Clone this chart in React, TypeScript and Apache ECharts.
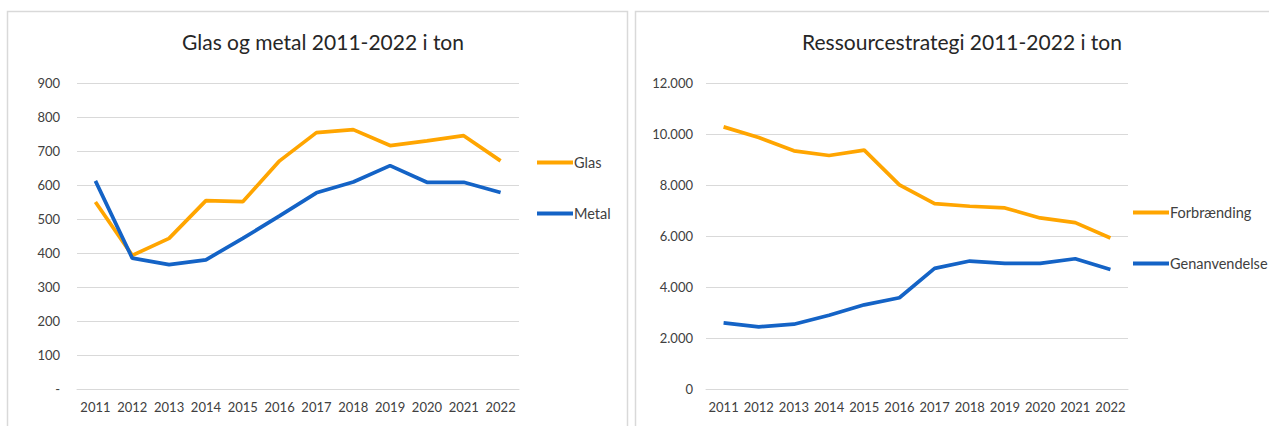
import React, { useEffect, useRef } from "react";
import * as echarts from "echarts";

const years = ["2011", "2012", "2013", "2014", "2015", "2016", "2017", "2018", "2019", "2020", "2021", "2022"];
const glas = [550, 393, 443, 554, 551, 671, 754, 763, 716, 730, 745, 671];
const metal = [612, 385, 366, 380, 443, 509, 577, 609, 657, 608, 608, 578];
const forbraending = [10280, 9865, 9341, 9158, 9367, 8005, 7271, 7166, 7101, 6708, 6524, 5922];
const genanvendelse = [2594, 2437, 2542, 2895, 3301, 3577, 4730, 5018, 4926, 4926, 5109, 4690];

const leftTitle = "Glas og metal 2011-2022 i ton";
const rightTitle = "Ressourcestrategi 2011-2022 i ton";

const ORANGE = "#FFA500";
const BLUE = "#1463C6";
const FONT = "Lato, 'Noto Sans', sans-serif";
const LABEL = "#404040";
const GRID = "#d9d9d9";

function fmtThousands(v: number) {
  return String(v).replace(/\B(?=(\d{3})+(?!\d))/g, ".");
}

export default function App() {
  const ref = useRef<HTMLDivElement>(null);
  useEffect(() => {
    if (!ref.current) return;
    const chart = echarts.init(ref.current, undefined, { renderer: "svg" });
    const lineIcon = "path://M0,0H36V4H0Z";
    const common = {
      textStyle: { fontFamily: FONT, fontSize: 14.5, color: LABEL, lineHeight: 14, padding: [0, 0, 0, -4] },
      orient: "vertical",
      icon: lineIcon,
      itemWidth: 36,
      itemHeight: 4,
      itemGap: 36,
      padding: 0,
    };
    const titleStyle = { fontFamily: FONT, fontSize: 21, fontWeight: "normal", color: "#262626" };
    chart.setOption({
      animation: false,
      backgroundColor: "#ffffff",
      textStyle: { fontFamily: FONT },
      title: [
        { text: leftTitle, left: 318, top: 26, textAlign: "center", textStyle: titleStyle },
        { text: rightTitle, left: 957, top: 26, textAlign: "center", textStyle: titleStyle },
      ],
      legend: [
        { ...common, data: ["Glas", "Metal"], left: 537, top: 155 },
        { ...common, data: ["Forbrænding", "Genanvendelse"], left: 1133, top: 205 },
      ],
      grid: [
        { left: 77, top: 83, width: 442, height: 306 },
        { left: 706, top: 83, width: 422, height: 306 },
      ],
      xAxis: [0, 1].map((i) => ({
        type: "category",
        gridIndex: i,
        data: years,
        boundaryGap: true,
        axisLine: { show: true, lineStyle: { color: GRID, width: 1 } },
        axisTick: { show: false },
        axisLabel: { color: LABEL, fontSize: 13, fontFamily: FONT, margin: 11, interval: 0 },
      })),
      yAxis: [
        {
          type: "value",
          gridIndex: 0,
          min: 0,
          max: 900,
          interval: 100,
          axisLine: { show: false },
          axisTick: { show: false },
          splitLine: { lineStyle: { color: GRID, width: 1 } },
          axisLabel: {
            color: LABEL,
            fontSize: 13,
            fontFamily: FONT,
            margin: 17,
            formatter: (v: number) => (v === 0 ? "-" : String(v)),
          },
        },
        {
          type: "value",
          gridIndex: 1,
          min: 0,
          max: 12000,
          interval: 2000,
          axisLine: { show: false },
          axisTick: { show: false },
          splitLine: { lineStyle: { color: GRID, width: 1 } },
          axisLabel: {
            color: LABEL,
            fontSize: 13,
            fontFamily: FONT,
            margin: 13,
            formatter: (v: number) => fmtThousands(v),
          },
        },
      ],
      series: [
        { name: "Glas", type: "line", xAxisIndex: 0, yAxisIndex: 0, data: glas, color: ORANGE, showSymbol: false, lineStyle: { width: 3.7, color: ORANGE } },
        { name: "Metal", type: "line", xAxisIndex: 0, yAxisIndex: 0, data: metal, color: BLUE, showSymbol: false, lineStyle: { width: 3.7, color: BLUE } },
        { name: "Forbrænding", type: "line", xAxisIndex: 1, yAxisIndex: 1, data: forbraending, color: ORANGE, showSymbol: false, lineStyle: { width: 3.7, color: ORANGE } },
        { name: "Genanvendelse", type: "line", xAxisIndex: 1, yAxisIndex: 1, data: genanvendelse, color: BLUE, showSymbol: false, lineStyle: { width: 3.7, color: BLUE } },
      ],
      graphic: [
        { type: "rect", shape: { x: 7.5, y: 11.5, width: 620, height: 430 }, style: { fill: "none", stroke: GRID, lineWidth: 1.5 }, silent: true },
        { type: "rect", shape: { x: 635.5, y: 11.5, width: 650, height: 430 }, style: { fill: "none", stroke: GRID, lineWidth: 1.5 }, silent: true },
      ],
    });
    return () => chart.dispose();
  }, []);
  return <div ref={ref} style={{ position: "fixed", left: 0, top: 0, width: 1269, height: 426 }} />;
}
